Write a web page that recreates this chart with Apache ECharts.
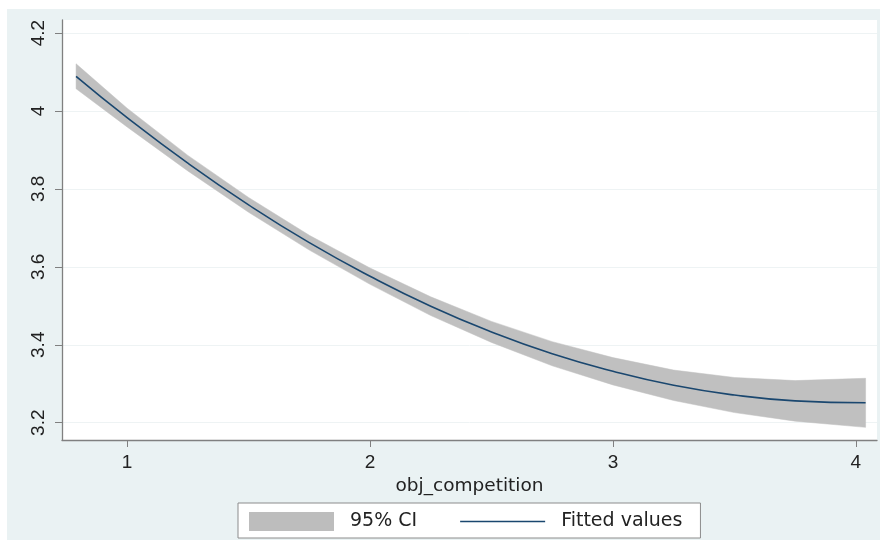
<!DOCTYPE html>
<html><head><meta charset="utf-8">
<script src="https://cdn.jsdelivr.net/npm/echarts@6/dist/echarts.min.js"></script>
<style>html,body{margin:0;padding:0;background:#fff;width:880px;height:540px;overflow:hidden}
#c{position:absolute;left:7px;top:9px;width:873px;height:531px}</style>
</head><body><div id="c"></div>
<script>
const xValues = [0.79, 1.0, 1.25, 1.5, 1.75, 2.0, 2.25, 2.5, 2.75, 3.0, 3.25, 3.5, 3.75, 4.04];
const fitted  = [4.089, 3.983, 3.866, 3.759, 3.662, 3.576, 3.499, 3.433, 3.377, 3.332, 3.296, 3.271, 3.256, 3.251];
const ciLower = [4.057, 3.959, 3.846, 3.740, 3.643, 3.555, 3.475, 3.406, 3.346, 3.297, 3.257, 3.226, 3.204, 3.188];
const ciUpper = [4.121, 4.007, 3.886, 3.778, 3.681, 3.597, 3.523, 3.460, 3.408, 3.367, 3.335, 3.316, 3.308, 3.314];
const yTicks = [3.2, 3.4, 3.6, 3.8, 4.0, 4.2];
const xTicks = [1, 2, 3, 4];
const xTitle = 'obj_competition';
const legendNames = ['95% CI', 'Fitted values'];

const bandData = xValues.map((x, i) => [x, ciLower[i], ciUpper[i]]);
const fitData = xValues.map((x, i) => [x, fitted[i]]);

const chart = echarts.init(document.getElementById('c'), null, {renderer: 'canvas'});
const axisCol = '#808080';
chart.setOption({
  animation: false,
  backgroundColor: '#eaf2f3',
  grid: {left: 55, right: 3, top: 11, bottom: 100, show: true, backgroundColor: '#ffffff', borderWidth: 0},
  xAxis: {
    type: 'value', min: 0.732, max: 4.087,
    name: xTitle, nameLocation: 'middle', nameGap: 33,
    nameTextStyle: {fontFamily: 'DejaVu Sans', fontSize: 18.5, color: '#222'},
    axisLine: {show: true, onZero: false, lineStyle: {color: axisCol, width: 1.3}},
    axisTick: {show: true, length: 7, customValues: xTicks, lineStyle: {color: axisCol}},
    axisLabel: {customValues: xTicks, margin: 13, fontFamily: 'Liberation Sans', fontSize: 19, color: '#222', formatter: v => String(v)},
    splitLine: {show: false}
  },
  yAxis: {
    type: 'value', min: 3.1556, max: 4.2334,
    axisLine: {show: true, onZero: false, lineStyle: {color: axisCol, width: 1.3}},
    axisTick: {show: true, length: 7, customValues: yTicks, lineStyle: {color: axisCol}},
    axisLabel: {customValues: yTicks, rotate: 90, margin: 14, fontFamily: 'Liberation Sans', fontSize: 19, color: '#222',
      formatter: v => String(parseFloat(Number(v).toFixed(1)))},
    splitLine: {show: true, lineStyle: {color: '#eef3f4', width: 1}}
  },
  legend: {
    left: 231, top: 494, orient: 'horizontal',
    itemWidth: 85, itemHeight: 19, itemGap: 43,
    padding: [9, 18, 7, 11],
    borderColor: '#8c8c8c', borderWidth: 1, backgroundColor: '#ffffff',
    textStyle: {fontFamily: 'DejaVu Sans', fontSize: 19, color: '#222', padding: [0, 0, 0, 11]},
    data: [
      {name: legendNames[0], icon: 'rect', itemStyle: {color: '#bdbdbd', borderWidth: 0}},
      {name: legendNames[1], icon: 'path://M0,0H100V1.6H0Z', itemStyle: {color: '#1a476f', borderWidth: 0}}
    ]
  },
  series: [
    {name: legendNames[0], type: 'custom', data: bandData, color: '#bdbdbd', silent: true,
     encode: {x: 0, y: [1, 2]},
     renderItem: function (params, api) {
       if (params.dataIndex !== 0) return null;
       const upper = bandData.map(d => api.coord([d[0], d[2]]));
       const lower = bandData.map(d => api.coord([d[0], d[1]])).reverse();
       return {type: 'polygon', shape: {points: upper.concat(lower)},
               style: {fill: '#c0c0c0', stroke: '#c0c0c0', lineWidth: 0.5}};
     }},
    {name: legendNames[1], type: 'line', data: fitData, symbol: 'none', smooth: true, z: 5,
     color: '#1a476f', lineStyle: {color: '#1a476f', width: 1.6}}
  ]
});
</script></body></html>
